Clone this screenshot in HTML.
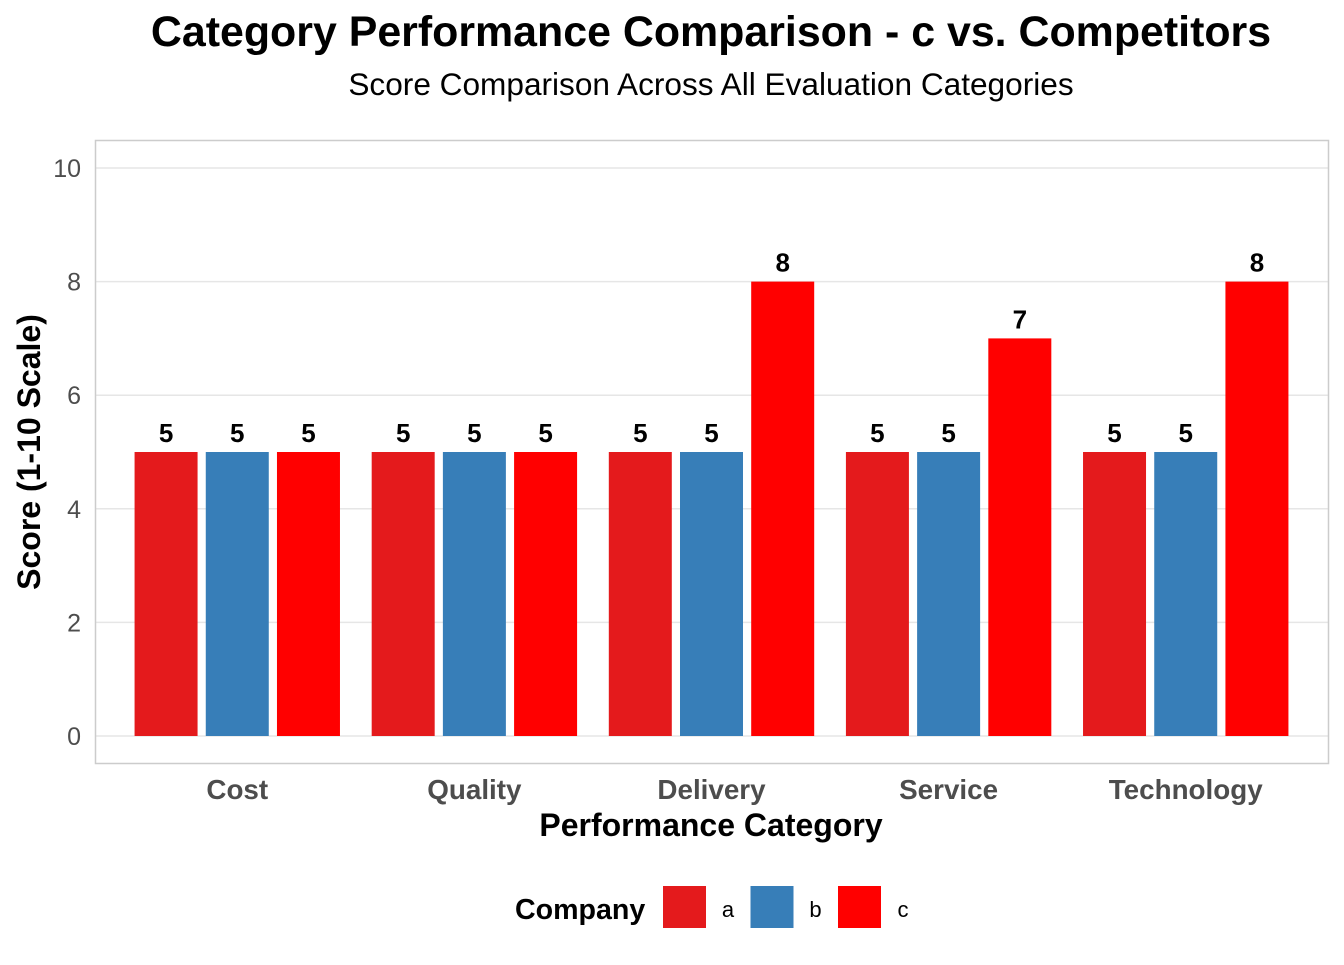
<!DOCTYPE html>
<html><head><meta charset="utf-8"><style>
body{margin:0;background:#fff;font-family:"Liberation Sans",Arial,sans-serif;}
</style></head><body>
<svg id="chart" width="1344" height="960" xmlns="http://www.w3.org/2000/svg">
<text x="711" y="46" text-anchor="middle" font-size="42.9" font-weight="bold">Category Performance Comparison - c vs. Competitors</text>
<text x="711" y="95" text-anchor="middle" font-size="31.6">Score Comparison Across All Evaluation Categories</text>
<g id="grid"></g>
<rect x="95.5" y="140.5" width="1233" height="623" fill="none" stroke="#cccccc" stroke-width="1.5"/>
<g id="bars"></g>
<g id="labels"></g>
<text x="711" y="836" text-anchor="middle" font-size="32" font-weight="bold">Performance Category</text>
<text transform="translate(40,452) rotate(-90)" text-anchor="middle" font-size="32" font-weight="bold">Score (1-10 Scale)</text>
<g>
<text x="515" y="919" font-size="28.6" font-weight="bold">Company</text>
<g id="legend"></g>
</g>
</svg>
<script>
const categories=["Cost","Quality","Delivery","Service","Technology"];
const companies=["a","b","c"];
const seriesA=[5,5,5,5,5];
const seriesB=[5,5,5,5,5];
const seriesC=[5,5,8,7,8];
const yTicks=[0,2,4,6,8,10];
const colors={a:"#E41A1C",b:"#377EB8",c:"#FF0000"};
const series=[seriesA,seriesB,seriesC];
const NS="http://www.w3.org/2000/svg";
const px0=95,px1=1328;
function y(v){return 736-v*56.8;}
function x(i){return px0+(i+0.6)*(px1-px0)/5.2;}
function mk(tag,attrs,parent,text){const e=document.createElementNS(NS,tag);for(const k in attrs)e.setAttribute(k,attrs[k]);if(text!==undefined)e.textContent=text;parent.appendChild(e);return e;}
const grid=document.getElementById('grid'),bars=document.getElementById('bars'),labels=document.getElementById('labels'),legend=document.getElementById('legend');
yTicks.forEach(t=>{
 const l=mk('line',{x1:px0,x2:px1,y1:y(t),y2:y(t),stroke:'#e6e6e6','stroke-width':1.5},grid);
 
 
 const tx=mk('text',{x:81,y:y(t)+9,'text-anchor':'end','font-size':25,fill:'#4d4d4d'},grid,String(t));
 
 
});
const bw=63,off=71.2;
categories.forEach((c,i)=>{
 const cx=x(i);
 const tl=mk('text',{x:cx,y:799,'text-anchor':'middle','font-size':27.8,'font-weight':'bold',fill:'#4d4d4d'},labels,c);
 
 
 series.forEach((s,j)=>{
  const bx=cx+(j-1)*off;
  const r=mk('rect',{x:bx-bw/2,y:y(s[i]),width:bw,height:y(0)-y(s[i]),fill:colors[companies[j]]},bars);
  
  
  const v=mk('text',{x:bx,y:y(s[i])-10,'text-anchor':'middle','font-size':26,'font-weight':'bold'},labels,String(s[i]));
  
  
 });
});
companies.forEach((c,j)=>{
 const sx=663+j*87.5;
 const r=mk('rect',{x:sx,y:886,width:43,height:42,fill:colors[c]},legend);
 
 
 const t=mk('text',{x:sx+65,y:917,'text-anchor':'middle','font-size':22},legend,c);
 
 
});
</script>
</body></html>
